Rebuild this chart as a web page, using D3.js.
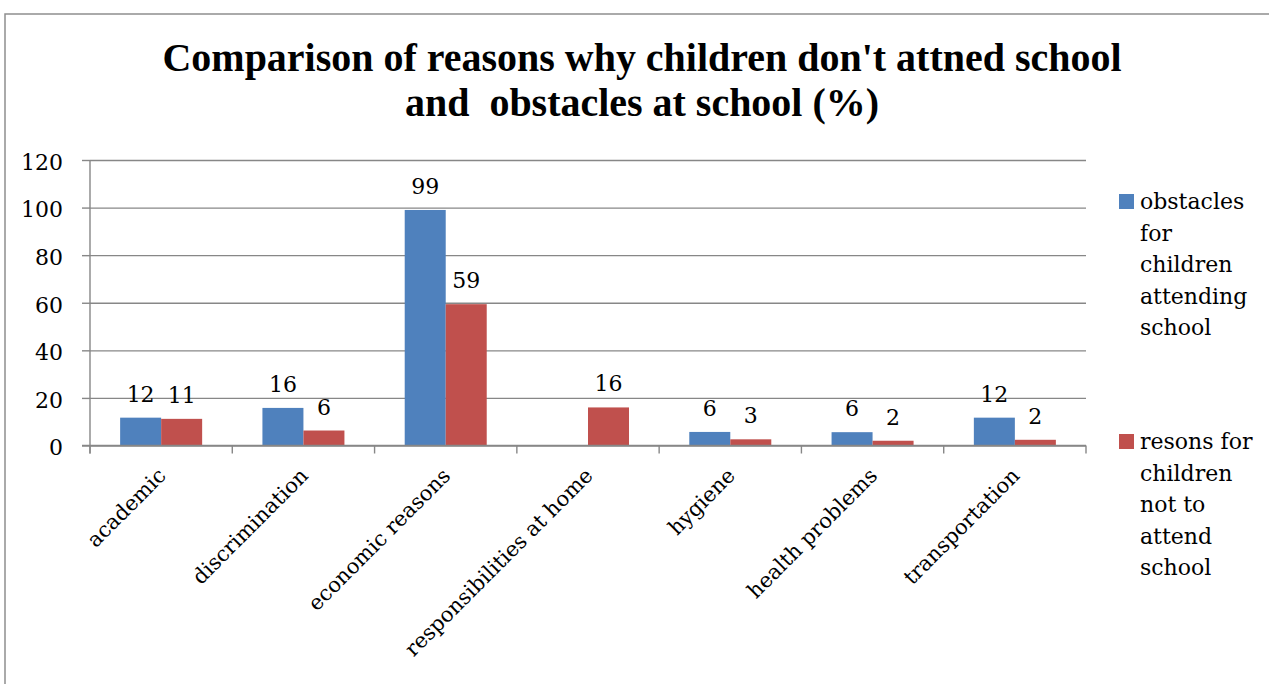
<!DOCTYPE html>
<html>
<head>
<meta charset="utf-8">
<script src="https://cdn.jsdelivr.net/npm/d3@7"></script>
<style>
  html, body { margin: 0; padding: 0; background: #fff; }
  svg { display: block; }
</style>
</head>
<body>
<svg id="chart" width="1269" height="684"></svg>
<script>
const categories = ["academic", "discrimination", "economic reasons", "responsibilities at home", "hygiene", "health problems", "transportation"];
const seriesNames = ["obstacles for children attending school", "resons for children not to attend school"];
const obstacles = [11.7, 15.8, 99.0, null, 5.7, 5.6, 11.7];
const reasons = [11.2, 6.3, 59.4, 16.0, 2.6, 2.0, 2.4];
const yTicks = [0, 20, 40, 60, 80, 100, 120];
const titleLines = ["Comparison of reasons why children don't attned school", "and  obstacles at school (%)"];
const legendLines = [["obstacles", "for", "children", "attending", "school"], ["resons for", "children", "not to", "attend", "school"]];
const colors = ["#4F81BD", "#C0504D"];

(function () {
const svg = d3.select("#chart");
const font = "'DejaVu Serif', serif";

// frame
svg.append("rect").attr("x", 5).attr("y", 14).attr("width", 1300).attr("height", 700)
  .attr("fill", "none").attr("stroke", "#8e8e8e").attr("stroke-width", 1.5);

// title
const tl = [{t: titleLines[0], y: 71, len: 959}, {t: titleLines[1], y: 116, len: 474}];
svg.selectAll("text.title").data(tl).join("text")
  .attr("class", "title")
  .attr("x", 642).attr("y", d => d.y)
  .attr("text-anchor", "middle")
  .attr("font-family", "'Liberation Serif', serif")
  .attr("font-weight", "bold").attr("font-size", 41)
  .attr("textLength", d => d.len).attr("lengthAdjust", "spacingAndGlyphs")
  .attr("fill", "#000")
  .style("white-space", "pre")
  .text(d => d.t);

const pLeft = 90, pRight = 1086, pTop = 160, pBottom = 445.5;
const x = d3.scaleBand().domain(categories).range([pLeft, pRight]).padding(0);
const xs = d3.scaleBand().domain([0, 1]).range([0, x.bandwidth()]).paddingInner(0).paddingOuter(0.735);
const y = d3.scaleLinear().domain([0, 120]).range([pBottom, pTop]);

// gridlines
svg.append("g").attr("transform", `translate(${pLeft},0)`)
  .call(d3.axisLeft(y).tickValues(yTicks).tickSize(-(pRight - pLeft)).tickFormat(""))
  .call(g => g.select(".domain").remove())
  .call(g => g.selectAll("line").attr("stroke", "#878787").attr("stroke-width", 1.4));

// y axis
svg.append("g").attr("transform", `translate(${pLeft},0)`)
  .call(d3.axisLeft(y).tickValues(yTicks).tickSize(8).tickPadding(19))
  .call(g => g.select(".domain").attr("d", `M0,${pTop}V${pBottom + 8}`).attr("stroke", "#878787").attr("stroke-width", 1.4))
  .call(g => g.selectAll("line").attr("stroke", "#878787").attr("stroke-width", 1.4))
  .call(g => g.selectAll("text").attr("font-family", font).attr("font-size", 22).attr("fill", "#000").attr("dy", "0.42em"));

// bars
const seriesData = [obstacles, reasons];
seriesData.forEach((vals, si) => {
  const data = categories.map((c, i) => ({c, v: vals[i]})).filter(d => d.v != null);
  svg.append("g").selectAll("rect").data(data).join("rect")
    .attr("x", d => x(d.c) + xs(si))
    .attr("width", xs.bandwidth())
    .attr("y", d => y(d.v))
    .attr("height", d => y(0) - y(d.v))
    .attr("fill", colors[si]);
  svg.append("g").selectAll("text").data(data).join("text")
    .attr("x", d => x(d.c) + xs(si) + xs.bandwidth() / 2)
    .attr("y", d => y(d.v) - 16)
    .attr("text-anchor", "middle")
    .attr("font-family", font).attr("font-size", 22).attr("fill", "#000")
    .text(d => Math.round(d.v));
});

// x axis line and category ticks
const xAxisG = svg.append("g");
xAxisG.append("line").attr("x1", pLeft - 8).attr("x2", pRight).attr("y1", pBottom).attr("y2", pBottom)
  .attr("stroke", "#878787").attr("stroke-width", 1.4);
const boundaries = categories.map(c => x(c)).concat([pRight]);
xAxisG.selectAll("line.tk").data(boundaries).join("line").attr("class", "tk")
  .attr("x1", d => d).attr("x2", d => d).attr("y1", pBottom).attr("y2", pBottom + 8)
  .attr("stroke", "#878787").attr("stroke-width", 1.4);
xAxisG.selectAll("text").data(categories).join("text")
  .attr("transform", d => `translate(${x(d) + x.bandwidth() / 2 + 6},477) rotate(-45)`)
  .attr("text-anchor", "end")
  .attr("font-family", font).attr("font-size", 21).attr("fill", "#000")
  .text(d => d);

// legend
const legendY = [209, 449];
seriesNames.forEach((name, i) => {
  const g = svg.append("g");
  g.append("rect").attr("x", 1119).attr("y", legendY[i] - 15).attr("width", 15).attr("height", 15).attr("fill", colors[i]);
  const t = g.append("text").attr("x", 1140).attr("y", legendY[i])
    .attr("font-family", font).attr("font-size", 22).attr("fill", "#000");
  legendLines[i].forEach((ln, j) => {
    t.append("tspan").attr("x", 1140).attr("dy", j === 0 ? 0 : 31.5).text(ln);
  });
});
})();
</script>
</body>
</html>
